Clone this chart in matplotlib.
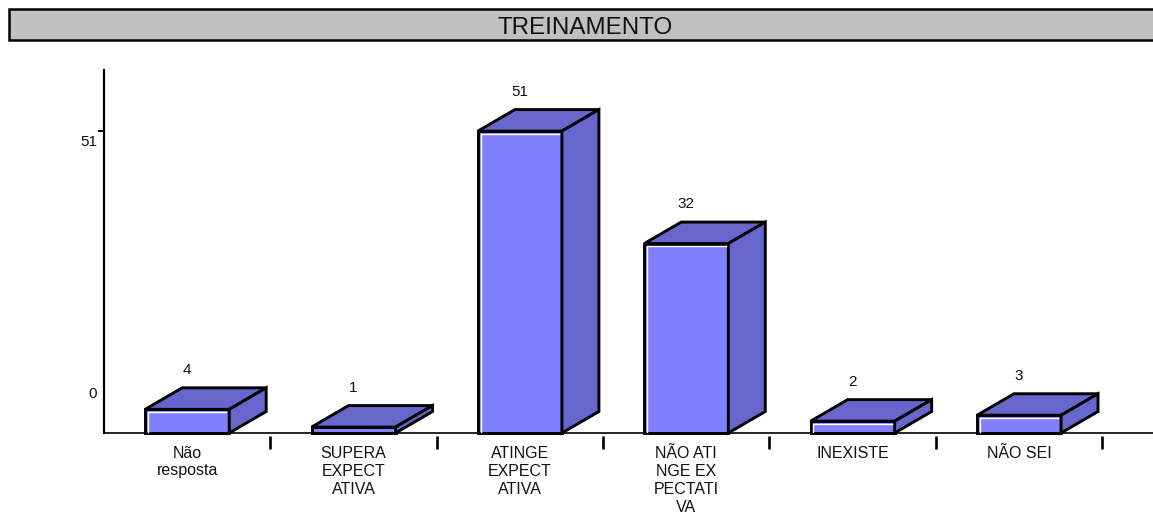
import matplotlib
matplotlib.use("Agg")
import matplotlib.pyplot as plt
from matplotlib.patches import Polygon, Rectangle
from matplotlib.transforms import ScaledTranslation

plt.rcParams["font.family"] = ["Liberation Sans", "DejaVu Sans"]

title = "TREINAMENTO"
categories = ["Não\nresposta", "SUPERA\nEXPECT\nATIVA", "ATINGE\nEXPECT\nATIVA",
              "NÃO ATI\nNGE EX\nPECTATI\nVA", "INEXISTE", "NÃO SEI"]
values = [4, 1, 51, 32, 2, 3]
y_ticks = [0, 51]

FRONT = "#8080FF"
SHADE = "#6666CC"
BAND = "#C0C0C0"
W, H = 1153, 514
PX_PER_X = 166.4
PX_PER_Y = 5.92

fig = plt.figure(figsize=(W / 100, H / 100), dpi=100, facecolor="white")

# Title band runs off the right side of the figure
fig.add_artist(Rectangle((8.5 / W, 1 - 40.5 / H), (W + 10) / W, 31.5 / H, transform=fig.transFigure,
                         facecolor=BAND, edgecolor="black", linewidth=1.8, clip_on=True))
fig.text(585.5 / W, 1 - 28 / H, title, ha="center", va="center", fontsize=17.4, color="#111111")

ax = fig.add_axes([104 / W, 1 - 433 / H, (W - 104) / W, 363 / H])
ax.set_xlim(-0.5, (W - 187) / PX_PER_X)
ax.set_ylim(0, 363 / PX_PER_Y)
ax.patch.set_visible(False)
for side in ("top", "right"):
    ax.spines[side].set_visible(False)
ax.spines["left"].set_linewidth(1.6)
ax.spines["bottom"].set_linewidth(1.2)

bar_w = 0.505
dx, dy = 37 / PX_PER_X, 21.5 / PX_PER_Y
edge = dict(edgecolor="black", linewidth=2.1, joinstyle="miter", clip_on=False)

for i, v in enumerate(values):
    l, r = i - bar_w / 2, i + bar_w / 2
    ax.bar(i, v, width=bar_w, color=FRONT, zorder=3, **edge)
    ax.add_patch(Polygon([(l, v), (r, v), (r + dx, v + dy), (l + dx, v + dy)],
                         facecolor=SHADE, zorder=4, **edge))
    ax.add_patch(Polygon([(r, 0), (r + dx, dy), (r + dx, v + dy), (r, v)],
                         facecolor=SHADE, zorder=4, **edge))
    # Thin highlight along the inner left and top edges of the front face
    inset_x, inset_y = 2.7 / PX_PER_X, 2.7 / PX_PER_Y
    if v > 1:
        ax.plot([l + inset_x, l + inset_x, r - inset_x],
                [0.2, v - inset_y, v - inset_y], color="white", lw=1.0, zorder=5)
    ax.annotate(str(v), (i, v + dy), xytext=(0, 13), textcoords="offset points",
                ha="center", va="center", fontsize=11, color="#111111")

# Category labels hang below the axis, with short separators between the groups
ax.set_xticks(range(len(categories)), categories, fontsize=11.5, color="#111111", linespacing=1.25)
ax.tick_params(axis="x", length=0, pad=9)
ax.vlines([i + 0.5 for i in range(len(categories))], -16 / PX_PER_Y, -3 / PX_PER_Y,
          color="black", lw=1.9, clip_on=False)

# Value-axis labels sit off their ticks
ax.set_yticks(y_ticks, [str(t) for t in y_ticks], fontsize=11, color="#111111")
ax.tick_params(axis="y", length=4, width=1.4, pad=2)
ax.yaxis.get_major_ticks()[0].tick1line.set_visible(False)
lab0, lab51 = ax.get_yticklabels()
lab0.set_transform(lab0.get_transform() + ScaledTranslation(1 / 72, 29 / 72, fig.dpi_scale_trans))
lab51.set_transform(lab51.get_transform() + ScaledTranslation(1 / 72, -7 / 72, fig.dpi_scale_trans))

fig.savefig("out.png", dpi=100, facecolor="white")
